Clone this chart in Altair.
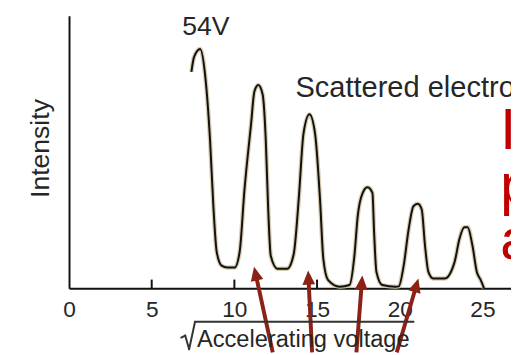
import math
import altair as alt
import pandas as pd

# ---- data ----
volt = [7.40, 7.56, 7.93, 8.23, 8.53, 8.73, 8.93, 9.23, 9.58, 10.02,
        10.32, 10.61, 11.01, 11.21, 11.45, 11.71, 11.90, 12.04, 12.20, 12.60,
        13.20, 13.59, 13.89, 14.18, 14.54, 14.88, 15.18, 15.38, 15.67, 16.37,
        16.96, 17.26, 17.46, 17.76, 18.05, 18.35, 18.45, 18.59, 18.95, 19.74,
        19.94, 20.24, 20.54, 20.83, 21.09, 21.33, 21.53, 21.73, 22.02, 22.72,
        23.32, 23.61, 23.91, 24.11, 24.40, 24.66, 24.90, 25.10]
intensity = [79.4, 84.8, 87.8, 78.3, 54.2, 30.1, 13.4, 8.3, 7.6, 7.6,
             13.4, 36.1, 60.3, 72.2, 74.6, 71.1, 54.2, 30.0, 11.9, 7.2,
             7.2, 12.6, 32.5, 56.7, 63.8, 56.7, 32.5, 10.8, 3.0, 0.6,
             1.2, 12.0, 26.5, 35.0, 37.1, 35.0, 20.6, 6.1, 1.2, 0.6,
             0.7, 8.3, 21.7, 30.1, 31.0, 28.9, 15.6, 6.1, 3.6, 3.6,
             9.7, 18.1, 22.4, 22.4, 15.6, 6.1, 3.0, 0.0]

axis_ticks = [0, 5, 10, 15, 20, 25]
inner_ticks = [5, 10, 15]
inner_tick_len = [3.2, 3.2, 3.2]

arrow_tip_v = [11.19, 14.46, 17.74, 21.13]
arrow_tip_i = [7.94, 6.50, 4.69, 3.61]
arrow_tail_v = [12.32, 14.70, 17.38, 19.82]
arrow_tail_i = [-23.5, -23.5, -23.5, -23.5]

peak_label = ["54V"]
curve_label = ["Scattered electrons"]
red_lines = ["Interference", "peaks", "at"]
x_title = ["Accelerating voltage"]
y_title = ["Intensity"]

# ---- layout ----
W, H = 449, 277
XMAX = 26.73
px_v = W / XMAX
px_i = H / 100.0
FONT = "Liberation Sans"
INK = "#262626"
ARROW = "#8c2116"
RED = "#c00000"

xs = alt.Scale(domain=[0, XMAX], nice=False, zero=False)
ys = alt.Scale(domain=[0, 100], nice=False)

curve_df = pd.DataFrame({"v": volt, "i": intensity})

x_axis = alt.Axis(values=axis_ticks, title=None, ticks=False, tickSize=0, labelPadding=11,
                  labelFontSize=23, labelFont=FONT, labelColor=INK, labelFlush=False,
                  domainColor="#111", domainWidth=2, grid=False, format="d")
y_axis = alt.Axis(title=None, labels=False, ticks=False, tickSize=0,
                  domainColor="#111", domainWidth=2, grid=False)

halo = alt.Chart(curve_df).mark_line(interpolate="monotone", color="#cfc0a0",
                                     strokeWidth=4.5, opacity=0.8).encode(
    x=alt.X("v:Q", scale=xs, axis=x_axis),
    y=alt.Y("i:Q", scale=ys, axis=y_axis))
curve = alt.Chart(curve_df).mark_line(interpolate="monotone", color="#111",
                                      strokeWidth=2).encode(
    x=alt.X("v:Q", scale=xs), y=alt.Y("i:Q", scale=ys))

tick_df = pd.DataFrame({"v": inner_ticks, "y0": [0] * len(inner_ticks), "y1": inner_tick_len})
ticks = alt.Chart(tick_df).mark_rule(color="#111", strokeWidth=2).encode(
    x=alt.X("v:Q", scale=xs), y=alt.Y("y0:Q", scale=ys), y2="y1:Q")

# arrows
rows = []
for tv, ti, av, ai in zip(arrow_tip_v, arrow_tip_i, arrow_tail_v, arrow_tail_i):
    dx = (tv - av) * px_v
    dy = (ti - ai) * px_i
    ln = math.hypot(dx, dy)
    ang = math.degrees(math.atan2(dx, dy)) % 360
    back = 8.0
    rows.append({"tv": tv, "ti": ti, "av": av, "ai": ai,
                 "ev": tv - dx / ln * back / px_v, "ei": ti - dy / ln * back / px_i,
                 "ang": ang})
arrow_df = pd.DataFrame(rows)
shafts = alt.Chart(arrow_df).mark_rule(color=ARROW, strokeWidth=4).encode(
    x=alt.X("av:Q", scale=xs), y=alt.Y("ai:Q", scale=ys), x2="ev:Q", y2="ei:Q")
heads = alt.Chart(arrow_df).mark_point(shape="M0,0 L-0.45,1 L0.45,1 Z", filled=True,
                                       size=820, color=ARROW, opacity=1, strokeWidth=0).encode(
    x=alt.X("tv:Q", scale=xs), y=alt.Y("ti:Q", scale=ys),
    angle=alt.Angle("ang:Q", scale=None))


def label(texts, x, y, size, color=INK, align="center", baseline="alphabetic", angle=0, font=FONT):
    df = pd.DataFrame({"t": texts})
    kw = dict(font=font, fontSize=size, color=color, align=align, baseline=baseline)
    if angle:
        kw["angle"] = angle
    return alt.Chart(df).mark_text(**kw).encode(text="t:N", x=alt.value(x), y=alt.value(y))


def seg(x1, y1, x2, y2, color="#333", w=2):
    return alt.Chart(pd.DataFrame({"a": [0]})).mark_rule(color=color, strokeWidth=w,
                                                         strokeCap="round").encode(
        x=alt.value(x1), y=alt.value(y1), x2=alt.value(x2), y2=alt.value(y2))


t54 = label(peak_label, 139, 20, 27)
tsc = label(curve_label, 230, 83, 29.5, align="left")
tyt = label(y_title, -28, 135, 27, angle=270, baseline="middle")
txt = label(x_title, 130, 337, 24, align="left")
# square-root sign over the x title
rad1 = seg(114, 327, 118, 325)
rad2 = seg(118, 325, 122, 339)
rad3 = seg(122, 339, 128, 311)
overline = seg(128, 311, 350, 311)

red_layers = [label([red_lines[k]], 438, 135 + 56 * k, 58, color=RED, align="left")
              for k in range(len(red_lines))]

chart = alt.layer(halo, curve, ticks, shafts, heads, t54, tsc, tyt, txt,
                  rad1, rad2, rad3, overline, *red_layers).properties(
    width=W, height=H,
    padding={"left": 62, "top": 5, "right": 0, "bottom": 65},
    autosize=alt.AutoSizeParams(type="none"),
    background="white",
).configure_view(stroke=None)

chart.save("out.html", embed_options={"renderer": "svg", "actions": False})
